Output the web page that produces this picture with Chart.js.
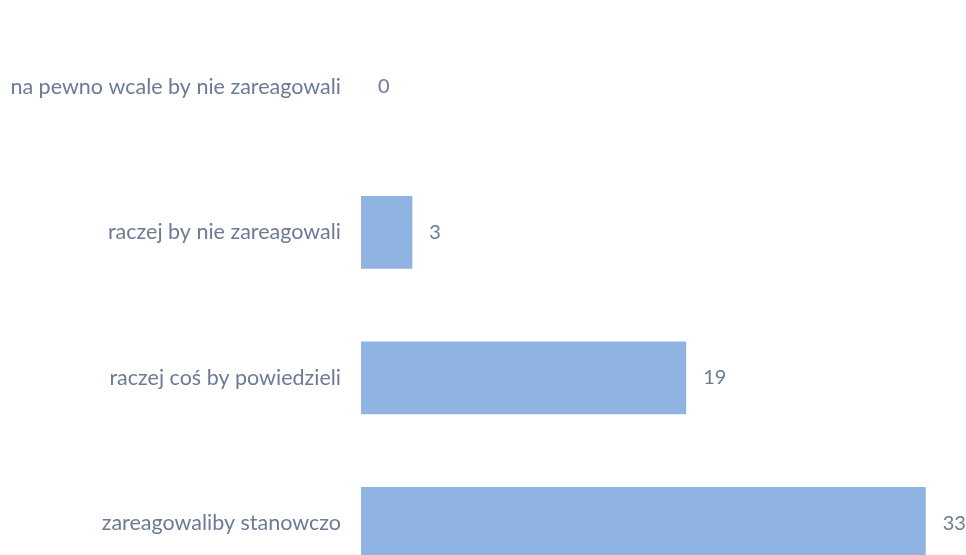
<!DOCTYPE html>
<html>
<head>
<meta charset="utf-8">
<script src="https://cdn.jsdelivr.net/npm/chart.js@4"></script>
<style>
  html, body { margin: 0; padding: 0; background: #fff; overflow: hidden; }
  canvas { display: block; }
</style>
</head>
<body>
<canvas id="chart" width="966" height="600"></canvas>
<script>
const categories = [
  'na pewno wcale by nie zareagowali',
  'raczej by nie zareagowali',
  'raczej coś by powiedzieli',
  'zareagowaliby stanowczo'
];
const values = [0, 3, 19, 33];

const textColor = '#6b7b95';
const barColor = '#8fb4e2';

// draws the value just past the end of each bar
const valueLabels = {
  id: 'valueLabels',
  afterDatasetsDraw(chart) {
    const ctx = chart.ctx;
    const meta = chart.getDatasetMeta(0);
    ctx.save();
    ctx.font = '20px Lato';
    ctx.fillStyle = textColor;
    ctx.textAlign = 'left';
    ctx.textBaseline = 'middle';
    meta.data.forEach((bar, i) => {
      ctx.fillText(String(values[i]), bar.x + 17, bar.y);
    });
    ctx.restore();
  }
};

new Chart(document.getElementById('chart'), {
  type: 'bar',
  data: {
    labels: categories,
    datasets: [{
      data: values,
      backgroundColor: barColor,
      borderWidth: 0,
      barPercentage: 0.5,
      categoryPercentage: 1
    }]
  },
  options: {
    indexAxis: 'y',
    responsive: false,
    animation: false,
    layout: { padding: { top: 14, bottom: 4, right: 6 } },
    plugins: {
      legend: { display: false },
      tooltip: { enabled: false }
    },
    scales: {
      x: {
        display: false,
        min: 0,
        max: 35
      },
      y: {
        afterFit(scale) {
          scale.width = 361;
          scale.paddingTop = 0;
          scale.paddingBottom = 0;
        },
        grid: { display: false },
        border: { display: false },
        ticks: {
          color: textColor,
          font: { family: 'Lato', size: 21.5 },
          padding: 12
        }
      }
    }
  },
  plugins: [valueLabels]
});
</script>
</body>
</html>
